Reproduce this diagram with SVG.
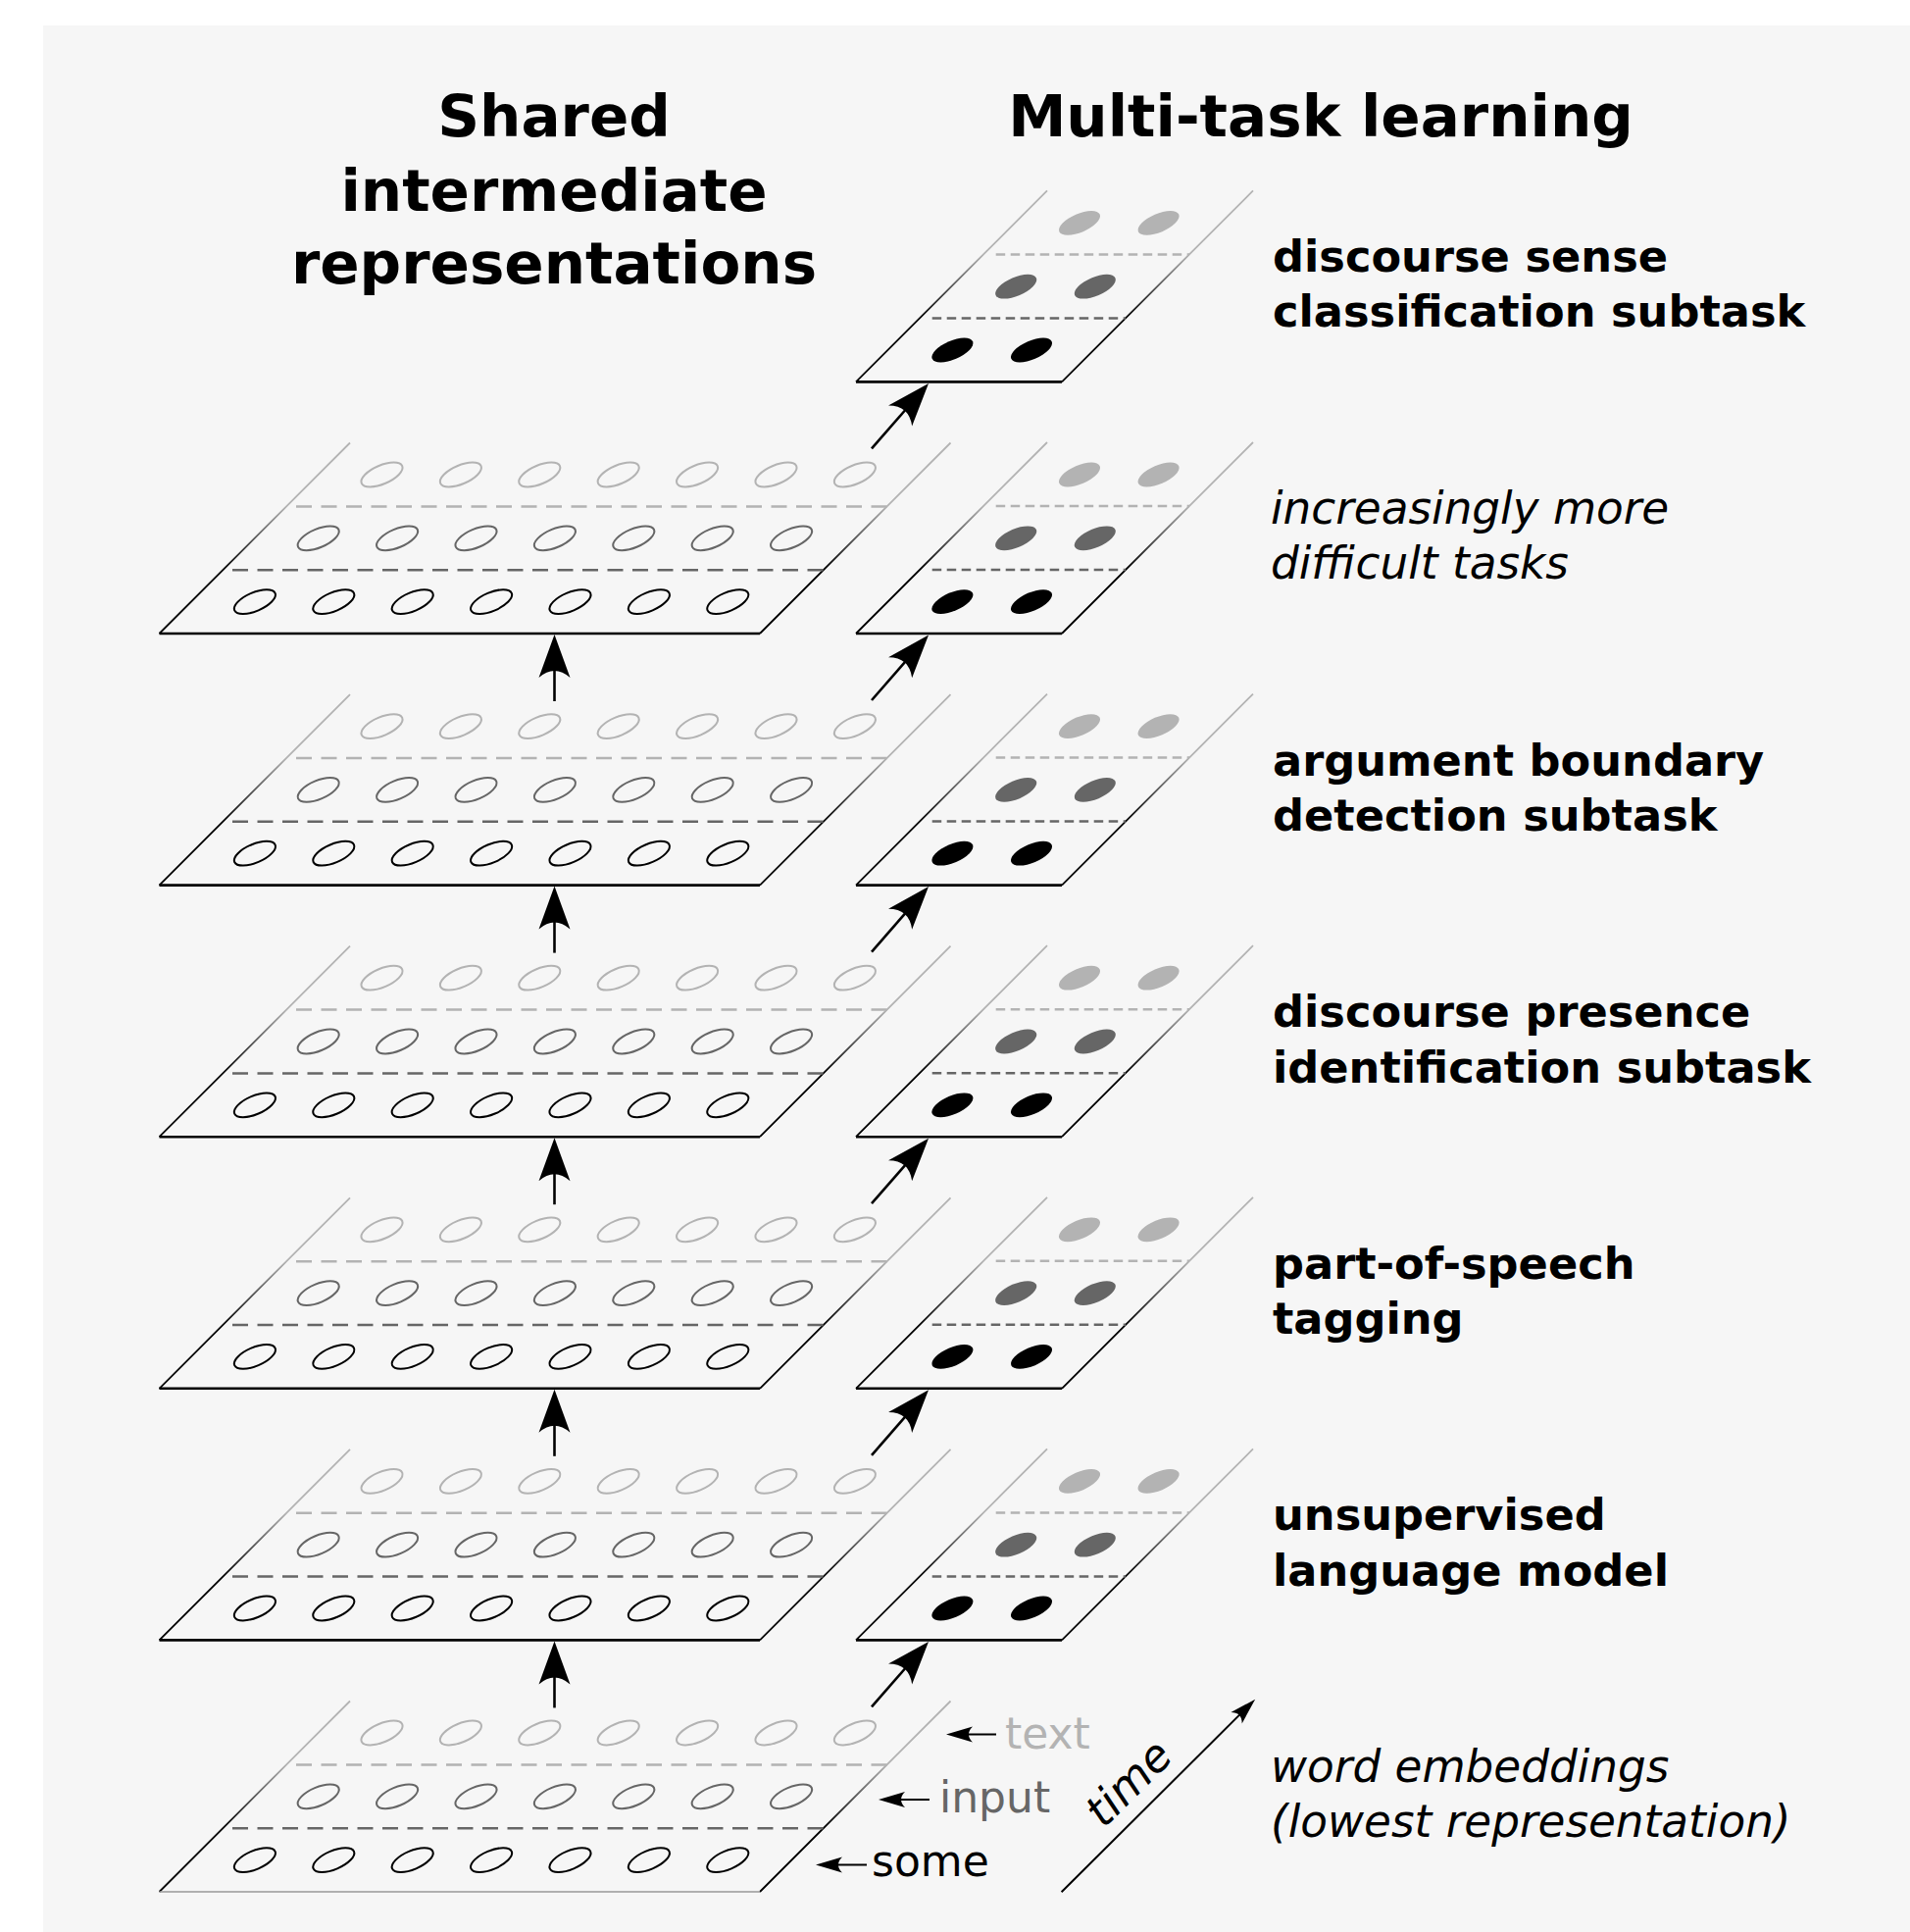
<svg xmlns="http://www.w3.org/2000/svg" xmlns:xlink="http://www.w3.org/1999/xlink" width="1948" height="1970" viewBox="0 0 1948 1970">
  <style>
    text { font-family: 'DejaVu Sans', 'Verdana', sans-serif; }
    .title { font-weight: bold; font-size: 59.5px; text-anchor: middle; fill: #000; }
    .lab { font-weight: bold; font-size: 44.7px; fill: #000; }
    .it { font-style: italic; font-size: 45.3px; fill: #000; }
    .reg { font-size: 44px; }
    .edge { fill: none; stroke: url(#edgeFade); stroke-width: 1.8; }
    .base { stroke: #000; stroke-width: 2.6; }
    .base0 { stroke: #999; stroke-width: 1.6; }
    .dashW { stroke-dasharray: 16 9.5; stroke-width: 2.5; fill: none; }
    .dashN { stroke-dasharray: 9.5 5.5; stroke-width: 2.5; fill: none; }
    .s1 { stroke: #666; }
    .s2 { stroke: #b3b3b3; }
    .o0 { fill: none; stroke: #000; stroke-width: 2; }
    .o1 { fill: none; stroke: #666; stroke-width: 2; }
    .o2 { fill: none; stroke: #b3b3b3; stroke-width: 2; }
    .f0 { fill: #000; }
    .f1 { fill: #666; }
    .f2 { fill: #b3b3b3; }
    .shaft { stroke: #000; stroke-width: 2.6; fill: none; }
    .thin { stroke: #000; stroke-width: 2; fill: none; }
  </style>
  <defs>
    <linearGradient id="edgeFade" x1="0" y1="0" x2="0" y2="1">
      <stop offset="0" stop-color="#b3b3b3"/>
      <stop offset="0.333" stop-color="#b3b3b3"/>
      <stop offset="0.667" stop-color="#000"/>
      <stop offset="1" stop-color="#000"/>
    </linearGradient>
    <marker id="headL" markerUnits="userSpaceOnUse" orient="auto" overflow="visible" markerWidth="1" markerHeight="1" refX="0" refY="0">
      <path d="M30,0 L-14,-16 Q0,0 -14,16 Z" fill="#000"/>
    </marker>
    <marker id="headS" markerUnits="userSpaceOnUse" orient="auto" overflow="visible" markerWidth="1" markerHeight="1" refX="0" refY="0">
      <path d="M18,0 L-9,-8 Q-1,0 -9,8 Z" fill="#000"/>
    </marker>
    <!-- one unit: a tilted ellipse centred on the origin -->
    <ellipse id="cell" cx="0" cy="0" rx="22.5" ry="9.5" transform="rotate(-23)"/>

    <!-- wide plane (shared representation), bottom edge at y=0 -->
    <g id="wide-plane">
      <path class="edge" d="M357,-194.5 L162.5,0 M775,0 L969.5,-194.5"/>
      <line class="dashW s1" x1="237" y1="-64.8" x2="839.8" y2="-64.8"/>
      <line class="dashW s2" x1="302" y1="-129.6" x2="904.6" y2="-129.6"/>
      <use xlink:href="#cell" class="o0" x="259.9" y="-32.4"/>
      <use xlink:href="#cell" class="o0" x="340.3" y="-32.4"/>
      <use xlink:href="#cell" class="o0" x="420.7" y="-32.4"/>
      <use xlink:href="#cell" class="o0" x="501.1" y="-32.4"/>
      <use xlink:href="#cell" class="o0" x="581.5" y="-32.4"/>
      <use xlink:href="#cell" class="o0" x="661.9" y="-32.4"/>
      <use xlink:href="#cell" class="o0" x="742.3" y="-32.4"/>
      <use xlink:href="#cell" class="o1" x="324.7" y="-97.2"/>
      <use xlink:href="#cell" class="o1" x="405.1" y="-97.2"/>
      <use xlink:href="#cell" class="o1" x="485.5" y="-97.2"/>
      <use xlink:href="#cell" class="o1" x="565.9" y="-97.2"/>
      <use xlink:href="#cell" class="o1" x="646.3" y="-97.2"/>
      <use xlink:href="#cell" class="o1" x="726.7" y="-97.2"/>
      <use xlink:href="#cell" class="o1" x="807.1" y="-97.2"/>
      <use xlink:href="#cell" class="o2" x="389.5" y="-162"/>
      <use xlink:href="#cell" class="o2" x="469.9" y="-162"/>
      <use xlink:href="#cell" class="o2" x="550.3" y="-162"/>
      <use xlink:href="#cell" class="o2" x="630.7" y="-162"/>
      <use xlink:href="#cell" class="o2" x="711.1" y="-162"/>
      <use xlink:href="#cell" class="o2" x="791.5" y="-162"/>
      <use xlink:href="#cell" class="o2" x="871.9" y="-162"/>
    </g>

    <!-- narrow plane (task output), bottom edge at y=0 -->
    <g id="task-plane">
      <path class="edge" d="M1068,-195 L873,0 M1083,0 L1278,-195"/>
      <line class="dashN s1" x1="950.7" y1="-65" x2="1148" y2="-65"/>
      <line class="dashN s2" x1="1015.7" y1="-130" x2="1213" y2="-130"/>
      <use xlink:href="#cell" class="f0" x="971.4" y="-32.4"/>
      <use xlink:href="#cell" class="f0" x="1052" y="-32.4"/>
      <use xlink:href="#cell" class="f1" x="1036.2" y="-97.2"/>
      <use xlink:href="#cell" class="f1" x="1116.8" y="-97.2"/>
      <use xlink:href="#cell" class="f2" x="1101" y="-162"/>
      <use xlink:href="#cell" class="f2" x="1181.6" y="-162"/>
      <line class="base" x1="873" y1="0" x2="1083" y2="0"/>
    </g>
  </defs>

  <!-- page -->
  <rect x="0" y="0" width="1948" height="1970" fill="#ffffff"/>
  <rect x="44" y="26" width="1904" height="1944" fill="#f6f6f6"/>

  <!-- headings -->
  <g id="titles">
    <text class="title" x="565" y="139">Shared</text>
    <text class="title" x="565" y="215">intermediate</text>
    <text class="title" x="565" y="289">representations</text>
    <text class="title" x="1347" y="139">Multi-task learning</text>
  </g>

  <!-- shared representation layers, bottom to top -->
  <g id="shared-0" transform="translate(0,1929)">
    <use xlink:href="#wide-plane"/>
    <line class="base0" x1="162.5" y1="0" x2="775" y2="0"/>
  </g>
  <g id="shared-1" transform="translate(0,1672.4)">
    <use xlink:href="#wide-plane"/>
    <line class="base" x1="162.5" y1="0" x2="775" y2="0"/>
  </g>
  <g id="shared-2" transform="translate(0,1415.8)">
    <use xlink:href="#wide-plane"/>
    <line class="base" x1="162.5" y1="0" x2="775" y2="0"/>
  </g>
  <g id="shared-3" transform="translate(0,1159.2)">
    <use xlink:href="#wide-plane"/>
    <line class="base" x1="162.5" y1="0" x2="775" y2="0"/>
  </g>
  <g id="shared-4" transform="translate(0,902.6)">
    <use xlink:href="#wide-plane"/>
    <line class="base" x1="162.5" y1="0" x2="775" y2="0"/>
  </g>
  <g id="shared-5" transform="translate(0,646)">
    <use xlink:href="#wide-plane"/>
    <line class="base" x1="162.5" y1="0" x2="775" y2="0"/>
  </g>

  <!-- task output layers -->
  <g id="task-language-model" transform="translate(0,1672.4)"><use xlink:href="#task-plane"/></g>
  <g id="task-pos-tagging" transform="translate(0,1415.8)"><use xlink:href="#task-plane"/></g>
  <g id="task-discourse-presence" transform="translate(0,1159.2)"><use xlink:href="#task-plane"/></g>
  <g id="task-argument-boundary" transform="translate(0,902.6)"><use xlink:href="#task-plane"/></g>
  <g id="task-intermediate" transform="translate(0,646)"><use xlink:href="#task-plane"/></g>
  <g id="task-discourse-sense" transform="translate(0,389.4)"><use xlink:href="#task-plane"/></g>

  <!-- connectors -->
  <g id="connectors">
    <line class="shaft" x1="565.5" y1="1741.4" x2="565.5" y2="1703.4" marker-end="url(#headL)"/>
    <line class="shaft" x1="565.5" y1="1484.8" x2="565.5" y2="1446.8" marker-end="url(#headL)"/>
    <line class="shaft" x1="565.5" y1="1228.2" x2="565.5" y2="1190.2" marker-end="url(#headL)"/>
    <line class="shaft" x1="565.5" y1="971.6" x2="565.5" y2="933.6" marker-end="url(#headL)"/>
    <line class="shaft" x1="565.5" y1="715" x2="565.5" y2="677" marker-end="url(#headL)"/>

    <line class="shaft" x1="889" y1="1740.4" x2="927.3" y2="1696.5" marker-end="url(#headL)"/>
    <line class="shaft" x1="889" y1="1483.8" x2="927.3" y2="1439.9" marker-end="url(#headL)"/>
    <line class="shaft" x1="889" y1="1227.2" x2="927.3" y2="1183.3" marker-end="url(#headL)"/>
    <line class="shaft" x1="889" y1="970.6" x2="927.3" y2="926.7" marker-end="url(#headL)"/>
    <line class="shaft" x1="889" y1="714" x2="927.3" y2="670.1" marker-end="url(#headL)"/>
    <line class="shaft" x1="889" y1="457.4" x2="927.3" y2="413.5" marker-end="url(#headL)"/>
  </g>

  <!-- row captions on the lowest layer -->
  <g id="input-labels">
    <line class="thin" x1="1016" y1="1768.5" x2="983" y2="1768.5" marker-end="url(#headS)"/>
    <line class="thin" x1="948" y1="1835" x2="914" y2="1835" marker-end="url(#headS)"/>
    <line class="thin" x1="884" y1="1901.5" x2="850" y2="1901.5" marker-end="url(#headS)"/>
    <text class="reg" x="1025" y="1783" fill="#b3b3b3">text</text>
    <text class="reg" x="958" y="1848" fill="#666666">input</text>
    <text class="reg" x="889" y="1913" fill="#000000">some</text>
  </g>

  <!-- time axis -->
  <g id="time-axis">
    <line class="thin" x1="1082.6" y1="1929.3" x2="1267.4" y2="1745.4" marker-end="url(#headS)"/>
    <text class="it" text-anchor="middle" transform="translate(1162,1829) rotate(-45)">time</text>
  </g>

  <!-- task descriptions -->
  <g id="task-labels">
    <text class="lab" x="1298" y="277">discourse sense</text>
    <text class="lab" x="1298" y="333">classification subtask</text>
    <text class="it" x="1296" y="534">increasingly more</text>
    <text class="it" x="1296" y="590">difficult tasks</text>
    <text class="lab" x="1298" y="790.5">argument boundary</text>
    <text class="lab" x="1298" y="847">detection subtask</text>
    <text class="lab" x="1298" y="1047">discourse presence</text>
    <text class="lab" x="1298" y="1103.5">identification subtask</text>
    <text class="lab" x="1298" y="1303.5">part-of-speech</text>
    <text class="lab" x="1298" y="1360">tagging</text>
    <text class="lab" x="1298" y="1560">unsupervised</text>
    <text class="lab" x="1298" y="1616.5">language model</text>
    <text class="it" x="1296" y="1817">word embeddings</text>
    <text class="it" x="1296" y="1873">(lowest representation)</text>
  </g>
</svg>
